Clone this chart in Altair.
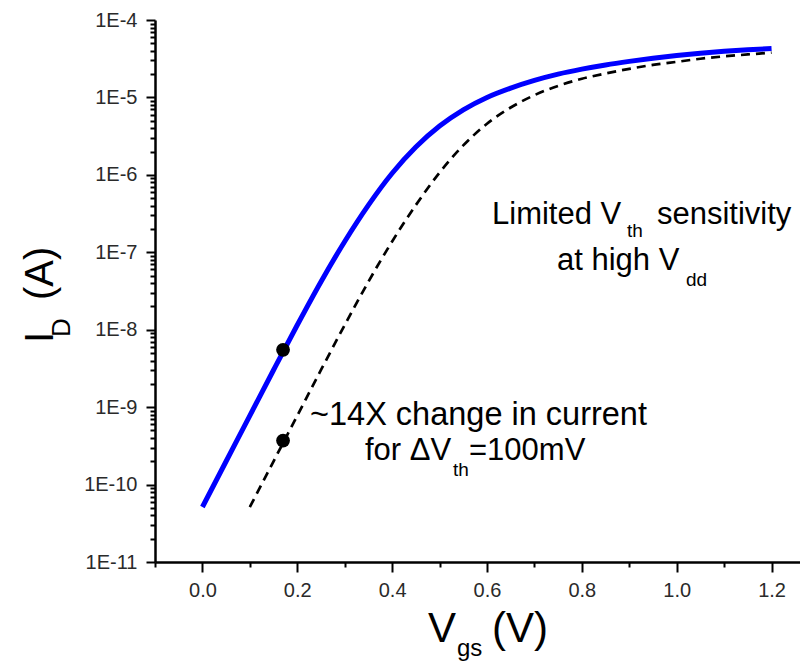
import altair as alt
import pandas as pd

# ---- data ----
vgs_fast = [0.00, 0.05, 0.10, 0.15, 0.20, 0.25, 0.30, 0.35, 0.40, 0.45, 0.50,
            0.55, 0.60, 0.65, 0.70, 0.75, 0.80, 0.85, 0.90, 0.95, 1.00, 1.05,
            1.10, 1.15, 1.20]
id_fast = [5.13e-11, 2.00e-10, 7.76e-10, 3.02e-9, 1.15e-8, 4.17e-8, 1.38e-7,
           4.07e-7, 1.05e-6, 2.29e-6, 4.27e-6, 6.92e-6, 1.00e-5, 1.32e-5,
           1.66e-5, 2.00e-5, 2.32e-5, 2.63e-5, 2.92e-5, 3.20e-5, 3.47e-5,
           3.72e-5, 3.94e-5, 4.12e-5, 4.27e-5]

vgs_slow = [0.10, 0.15, 0.20, 0.25, 0.30, 0.35, 0.40, 0.45, 0.50, 0.55, 0.60,
            0.65, 0.70, 0.75, 0.80, 0.85, 0.90, 0.95, 1.00, 1.05, 1.10, 1.15,
            1.20]
id_slow = [5.13e-11, 2.00e-10, 7.76e-10, 3.02e-9, 1.15e-8, 4.17e-8, 1.38e-7,
           4.07e-7, 1.07e-6, 2.40e-6, 4.57e-6, 7.41e-6, 1.07e-5, 1.41e-5,
           1.74e-5, 2.04e-5, 2.34e-5, 2.63e-5, 2.88e-5, 3.16e-5, 3.39e-5,
           3.59e-5, 3.80e-5]

dot_vgs = [0.17, 0.17]
dot_id = [5.5e-9, 3.7e-10]

x_ticks = [-0.1, 0.0, 0.1, 0.2, 0.3, 0.4, 0.5, 0.6, 0.7, 0.8, 0.9, 1.0, 1.1, 1.2]
decades = [1e-11, 1e-10, 1e-9, 1e-8, 1e-7, 1e-6, 1e-5, 1e-4]
mantissas = [1, 2, 3, 4, 5, 6, 7, 8, 9]
y_ticks = [m * d for d in decades[:-1] for m in mantissas] + [decades[-1]]

FONT = "Liberation Sans"

xscale = alt.Scale(domain=[-0.1, 1.26], nice=False, zero=False)
yscale = alt.Scale(type="log", domain=[1e-11, 1e-4], nice=False)

is_decade = "abs(log(datum.value)/LN10 - round(log(datum.value)/LN10)) < 0.01"
is_even = "abs(round(datum.value*10)) % 2 == 0"

xaxis = alt.Axis(
    values=x_ticks,
    title=None,
    grid=False,
    labelExpr=f"{is_even} ? format(datum.value, '.1f') : ''",
    tickSize={"condition": {"test": is_even, "value": 10}, "value": 5},
    labelPadding=8,
    labelOverlap=False,
)
yaxis = alt.Axis(
    values=y_ticks,
    title=None,
    grid=False,
    labelExpr=f"{is_decade} ? '1E' + round(log(datum.value)/LN10) : ''",
    tickSize={"condition": {"test": is_decade, "value": 9}, "value": 5},
    labelPadding=9,
    labelOverlap=False,
)

fast_df = pd.DataFrame({"vgs": vgs_fast, "id": id_fast})
slow_df = pd.DataFrame({"vgs": vgs_slow, "id": id_slow})
dot_df = pd.DataFrame({"vgs": dot_vgs, "id": dot_id})

blue = alt.Chart(fast_df).mark_line(
    color="#0000ff", strokeWidth=5, interpolate="monotone"
).encode(
    x=alt.X("vgs:Q", scale=xscale, axis=xaxis),
    y=alt.Y("id:Q", scale=yscale, axis=yaxis),
)

dashed = alt.Chart(slow_df).mark_line(
    color="black", strokeWidth=2.7, strokeDash=[9, 6], interpolate="monotone"
).encode(
    x=alt.X("vgs:Q", scale=xscale),
    y=alt.Y("id:Q", scale=yscale),
)

dots = alt.Chart(dot_df).mark_point(
    filled=True, color="black", size=190, opacity=1
).encode(
    x=alt.X("vgs:Q", scale=xscale),
    y=alt.Y("id:Q", scale=yscale),
)


def seg(text, x, y, size, angle=0):
    return alt.Chart(pd.DataFrame({"label": [text]})).mark_text(
        font=FONT, fontSize=size, align="left", baseline="alphabetic",
        color="black", angle=angle,
    ).encode(x=alt.value(x), y=alt.value(y), text="label:N")


texts = [
    seg("Limited V", 337, 204, 31),
    seg("th", 472, 217, 19),
    seg("sensitivity", 502, 204, 31),
    seg("at high V", 402, 250, 31),
    seg("dd", 531, 266, 19),
    seg("~14X change in current", 155, 405, 32.5),
    seg("for \u0394V", 210, 440, 31),
    seg("th", 298, 456, 19),
    seg("=100mV", 314, 440, 31),
    seg("V", 273, 622, 42),
    seg("gs", 302, 636, 24),
    seg("(V)", 337, 622, 42),
    seg("I", -102, 323, 40, 270),
    seg("D", -85, 317, 26, 270),
    seg("(A)", -102, 280, 40, 270),
]

chart = alt.layer(blue, dashed, dots, *texts).properties(
    width=645,
    height=542,
    padding={"left": 155, "top": 20, "right": 0, "bottom": 100},
    autosize="none",
).configure_view(stroke=None).configure_axis(
    domainColor="black",
    domainWidth=2.5,
    tickColor="black",
    tickWidth=2,
    labelFont=FONT,
    labelFontSize=20,
    labelColor="#2a2a2a",
)

chart.save("out.html", embed_options={"renderer": "svg", "actions": False})
